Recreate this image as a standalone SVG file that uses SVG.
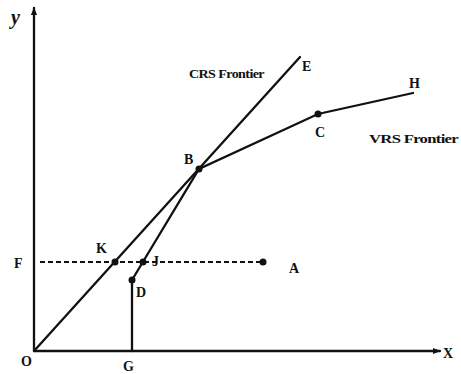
<svg xmlns="http://www.w3.org/2000/svg" width="461" height="374" viewBox="0 0 461 374">
<defs>
<style>
.ln{stroke:#111;stroke-width:2.3;fill:none;stroke-linecap:round}
.dash{stroke:#111;stroke-width:2.2;fill:none;stroke-dasharray:5 3}
.dot{fill:#111}
.lb{font-family:"Liberation Serif",serif;font-weight:bold;font-size:14px;fill:#111}
.fr{font-family:"Liberation Serif",serif;font-weight:bold;font-size:12px;fill:#111;letter-spacing:-0.5px}
</style>
<marker id="ar" viewBox="0 0 10 10" refX="9" refY="5" markerWidth="8" markerHeight="8" markerUnits="userSpaceOnUse" orient="auto">
<path d="M0,1 L10,5 L0,9 Z" fill="#111"/>
</marker>
</defs>
<rect width="461" height="374" fill="#fff"/>
<g id="axes">
<line class="ln" x1="34" y1="351" x2="34" y2="8" marker-end="url(#ar)"/>
<line class="ln" x1="34" y1="351" x2="440" y2="351" marker-end="url(#ar)"/>
<text x="11" y="24" font-family="Liberation Serif,serif" font-style="italic" font-weight="bold" font-size="20" fill="#111">y</text>
<text x="443" y="358" class="lb">X</text>
<text x="21" y="366" class="lb">O</text>
</g>
<g id="connectors">
<line class="ln" x1="34" y1="351" x2="300" y2="57"/>
<polyline class="ln" points="132,280 199,169 318,114 413,93"/>
<line class="ln" x1="132" y1="280" x2="132" y2="351"/>
<line class="dash" x1="40" y1="262" x2="263" y2="262"/>
</g>
<g id="node-F"><text x="14" y="268" class="lb">F</text></g>
<g id="node-G"><text x="123" y="371" class="lb" font-size="13">G</text></g>
<g id="node-K"><circle class="dot" cx="115" cy="262" r="3.5"/><text x="96" y="253" class="lb">K</text></g>
<g id="node-J"><circle class="dot" cx="143" cy="262" r="3.5"/><text x="152" y="266" class="lb">J</text></g>
<g id="node-D"><circle class="dot" cx="132" cy="280" r="3.5"/><text x="136" y="297" class="lb">D</text></g>
<g id="node-A"><circle class="dot" cx="263" cy="262" r="3.5"/><text x="289" y="273" class="lb" font-size="12">A</text></g>
<g id="node-B"><circle class="dot" cx="199" cy="169" r="3.5"/><text x="184" y="164" class="lb">B</text></g>
<g id="node-C"><circle class="dot" cx="318" cy="114" r="3.5"/><text x="315" y="137" class="lb">C</text></g>
<g id="node-E"><text x="302" y="71" class="lb" font-size="12">E</text></g>
<g id="node-H"><text x="409" y="88" class="lb">H</text></g>
<g id="label-crs"><text x="189" y="78" class="fr" textLength="75" lengthAdjust="spacingAndGlyphs">CRS Frontier</text></g>
<g id="label-vrs"><text x="369" y="143" class="fr" textLength="89" lengthAdjust="spacingAndGlyphs">VRS Frontier</text></g>
</svg>
